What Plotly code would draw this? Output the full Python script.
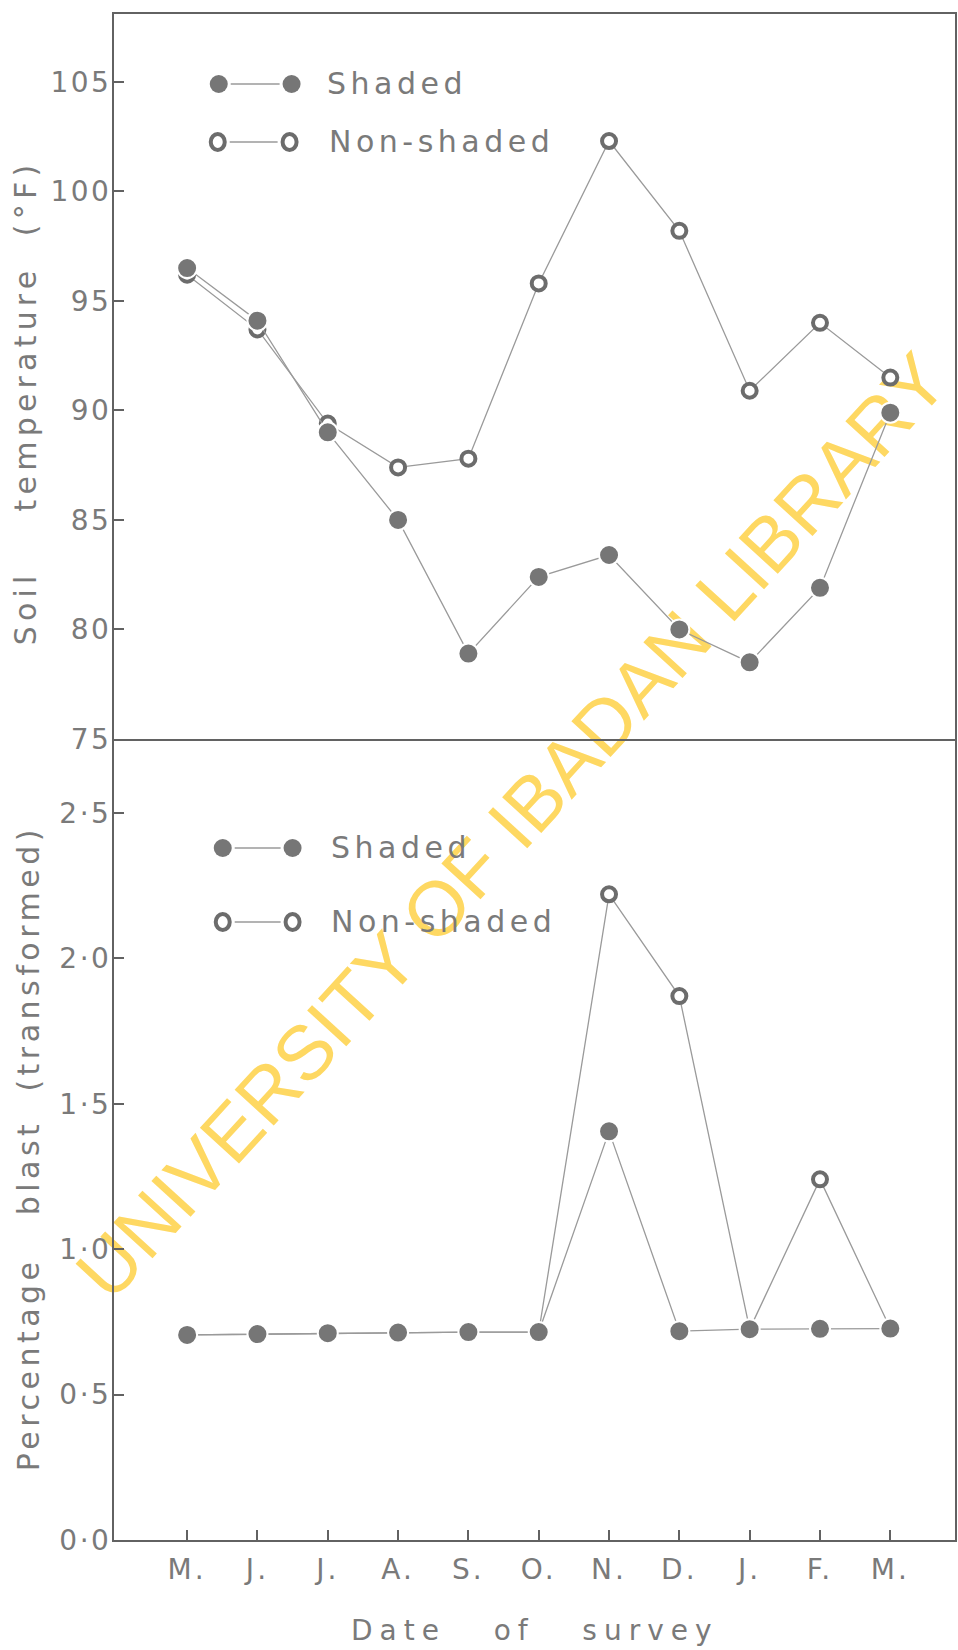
import plotly.graph_objects as go

# ---- data -------------------------------------------------------------
months = ["M.", "J.", "J.", "A.", "S.", "O.", "N.", "D.", "J.", "F.", "M."]

soil_shaded = [96.5, 94.1, 89.0, 85.0, 78.9, 82.4, 83.4, 80.0, 78.5, 81.9, 89.9]
soil_nonshaded = [96.2, 93.7, 89.4, 87.4, 87.8, 95.8, 102.3, 98.2, 90.9, 94.0, 91.5]

blast_shaded = [0.705, 0.708, 0.711, 0.713, 0.715, 0.715, 1.405, 0.718, 0.725, 0.726, 0.727]
blast_nonshaded = [0.705, 0.708, 0.711, 0.713, 0.715, 0.715, 2.22, 1.87, 0.725, 1.24, 0.727]

temp_ticks = [75, 80, 85, 90, 95, 100, 105]
blast_ticks = [0.0, 0.5, 1.0, 1.5, 2.0, 2.5]
blast_tick_labels = ["0·0", "0·5", "1·0", "1·5", "2·0", "2·5"]

# ---- page geometry ----------------------------------------------------
W, H = 958, 1650
ML, MR, MT, MB = 114, 1, 14, 110
PW = W - ML - MR
PH = H - MT - MB


def px(x):
    return (x - ML) / PW


def py(y):
    return (H - MB - y) / PH


SPLIT = py(739)

FONT = "DejaVu Sans, Liberation Sans, Arial, sans-serif"
TEXT = "#7a7a7a"
AXIS = "#626262"
LINE = "#9a9a9a"
DOT = "#767676"
RING = "#6c6c6c"


def spaced(text, track):
    return f'<span style="letter-spacing:{track}px">{text}</span>'


NB = "\u00a0"
xs = list(range(len(months)))

fig = go.Figure()


def add_pair(shaded, nonshaded, xa, ya):
    fig.add_trace(go.Scatter(
        x=xs, y=nonshaded, xaxis=xa, yaxis=ya, mode="lines+markers",
        name="Non-shaded", showlegend=False,
        line=dict(color=LINE, width=1.3),
        marker=dict(symbol="circle", size=14, color="white",
                    line=dict(color=RING, width=4)),
    ))
    fig.add_trace(go.Scatter(
        x=xs, y=shaded, xaxis=xa, yaxis=ya, mode="lines+markers",
        name="Shaded", showlegend=False,
        line=dict(color=LINE, width=1.3),
        marker=dict(symbol="circle", size=20, color=DOT,
                    line=dict(color="white", width=2)),
    ))


add_pair(soil_shaded, soil_nonshaded, "x", "y")
add_pair(blast_shaded, blast_nonshaded, "x2", "y2")

axis_common = dict(
    showline=True, linecolor=AXIS, linewidth=2,
    showgrid=False, zeroline=False,
)
xrange = [-1.04, 10.92]

fig.update_layout(
    width=W, height=H,
    margin=dict(l=ML, r=MR, t=MT, b=MB),
    paper_bgcolor="white", plot_bgcolor="rgba(0,0,0,0)",
    font=dict(family=FONT, color=TEXT),
    showlegend=False,
    xaxis=dict(domain=[0, 1], anchor="y", range=xrange, mirror=True,
               showticklabels=False, ticks="", **axis_common),
    yaxis=dict(domain=[SPLIT, 1], anchor="x", range=[75, 108.1], mirror=True,
               tickvals=temp_ticks,
               ticktext=[spaced(str(v), 2.5) for v in temp_ticks],
               ticks="inside", ticklen=10, tickwidth=2, tickcolor=AXIS,
               tickfont=dict(size=28, color=TEXT), ticklabelstandoff=-5,
               **axis_common),
    xaxis2=dict(domain=[0, 1], anchor="y2", range=xrange, mirror=False,
                tickvals=xs, ticktext=[spaced(m, 3) for m in months],
                ticks="inside", ticklen=10, tickwidth=2, tickcolor=AXIS,
                tickfont=dict(size=28, color=TEXT), ticklabelstandoff=3,
                **axis_common),
    yaxis2=dict(domain=[0, SPLIT], anchor="x2", range=[0, 2.754], mirror=True,
                tickvals=blast_ticks,
                ticktext=[spaced(t, 2.5) for t in blast_tick_labels],
                ticks="inside", ticklen=10, tickwidth=2, tickcolor=AXIS,
                tickfont=dict(size=28, color=TEXT), ticklabelstandoff=-5,
                **axis_common),
)

# ---- axis titles ------------------------------------------------------
title_font = dict(family=FONT, size=30, color=TEXT)
annotations = [
    dict(text=spaced(f"Soil{NB*4}temperature{NB*2}(°F)", 5.2),
         x=px(26), y=py(402), textangle=-90),
    dict(text=spaced(f"Percentage{NB*3}blast{NB*2}(transformed)", 4.5),
         x=px(28), y=py(1148), textangle=-90),
    dict(text=spaced(f"Date{NB*3}of{NB*3}survey", 7),
         x=px(536), y=py(1630), font=dict(family=FONT, size=28, color=TEXT)),
]
for a in annotations:
    a.setdefault("font", title_font)
    a.update(xref="paper", yref="paper", showarrow=False,
             xanchor="center", yanchor="middle")
    fig.add_annotation(**a)

# ---- legends (drawn keys) ---------------------------------------------
legend_rows = [
    # (x_left_marker, x_right_marker, y, text_x, label, filled)
    (219, 292, 84, 326, "Shaded", True),
    (218, 290, 142, 328, "Non-shaded", False),
    (223, 293, 848, 330, "Shaded", True),
    (223, 293, 922, 330, "Non-shaded", False),
]
for x0, x1, yy, tx, label, filled in legend_rows:
    fig.add_shape(type="line", xref="paper", yref="paper",
                  x0=px(x0 + 12), x1=px(x1 - 12), y0=py(yy), y1=py(yy),
                  line=dict(color=LINE, width=1.3))
    for cx in (x0, x1):
        if filled:
            r = 9
            fig.add_shape(type="circle", xref="paper", yref="paper",
                          xsizemode="pixel", ysizemode="pixel",
                          xanchor=px(cx), yanchor=py(yy),
                          x0=-r, x1=r, y0=-r, y1=r,
                          fillcolor=DOT, line=dict(width=0))
        else:
            r = 7
            fig.add_shape(type="circle", xref="paper", yref="paper",
                          xsizemode="pixel", ysizemode="pixel",
                          xanchor=px(cx), yanchor=py(yy),
                          x0=-r, x1=r, y0=-r - 1, y1=r + 1,
                          fillcolor="white", line=dict(color=RING, width=4))
    fig.add_annotation(text=spaced(label, 4.5), xref="paper", yref="paper",
                       x=px(tx), y=py(yy), xanchor="left", yanchor="middle",
                       showarrow=False,
                       font=dict(family=FONT, size=30, color=TEXT))

# ---- library stamp across the sheet -------------------------------------
fig.add_shape(type="line", xref="paper", yref="paper", layer="below",
              x0=px(72), y0=py(1296), x1=px(942), y1=py(346),
              line=dict(color="rgba(0,0,0,0)", width=0),
              label=dict(text="UNIVERSITY OF IBADAN LIBRARY",
                         textposition="middle", yanchor="middle",
                         font=dict(family="Liberation Sans, Arial, sans-serif",
                                   size=77, color="#fed862")))

fig.write_html("out.html")
